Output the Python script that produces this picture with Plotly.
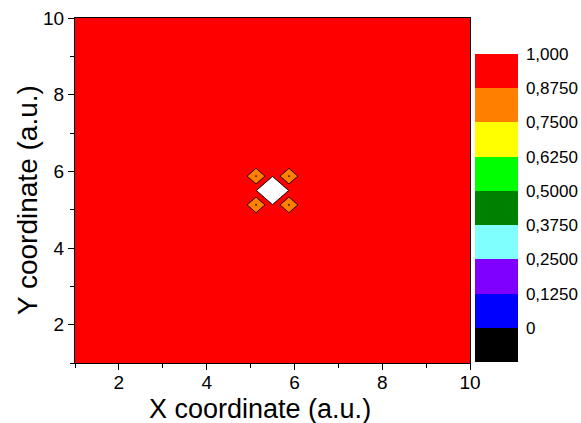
import numpy as np
import plotly.graph_objects as go

# Regular sampling grid of the field (a.u.)
grid_start = 1.0
grid_stop = 10.0
grid_step = 0.375

# Field value over the whole domain and the few nodes that differ from it
background_value = 0.99
node_x = [5.5, 5.125, 5.875, 5.125, 5.875]
node_y = [5.5, 5.875, 5.875, 5.125, 5.125]
node_z = [1.5, 0.738, 0.738, 0.738, 0.738]

# Contour levels and their colour bands (bottom to top)
level_start = 0.0
level_end = 1.0
level_step = 0.125
band_colors = ["#000000", "#0000FF", "#8000FF", "#80FFFF", "#008000",
               "#00FF00", "#FFFF00", "#FF8000", "#FF0000"]
above_color = "#FFFFFF"
colorbar_tickvals = [0, 0.125, 0.25, 0.375, 0.5, 0.625, 0.75, 0.875, 1.0]
colorbar_ticktext = ["0", "0,1250", "0,2500", "0,3750", "0,5000",
                     "0,6250", "0,7500", "0,8750", "1,000"]

# Axis ticks
x_ticks = [2, 4, 6, 8, 10]
y_ticks = [2, 4, 6, 8, 10]

# Build the gridded field
gx = np.arange(grid_start, grid_stop + grid_step / 2, grid_step)
gy = np.arange(grid_start, grid_stop + grid_step / 2, grid_step)
z = np.full((len(gy), len(gx)), background_value)
for xv, yv, zv in zip(node_x, node_y, node_z):
    i = int(np.argmin(np.abs(gy - yv)))
    j = int(np.argmin(np.abs(gx - xv)))
    z[i, j] = zv

# Contour fill colours: one stop per band, incl. below-first and above-last level
fill_colors = band_colors + [above_color]
n_fill = len(fill_colors)
fill_scale = [[k / (n_fill - 1), c] for k, c in enumerate(fill_colors)]

# Stepped scale for the colour bar (bands from level_start - step to level_end)
n_bands = len(band_colors)
bar_scale = []
for k, c in enumerate(band_colors):
    bar_scale.append([k / n_bands, c])
    bar_scale.append([(k + 1) / n_bands, c])

font_family = "Arial, Liberation Sans, sans-serif"

fig = go.Figure()
fig.add_trace(go.Contour(
    x=gx, y=gy, z=z,
    colorscale=fill_scale,
    showscale=False,
    contours=dict(start=level_start, end=level_end, size=level_step,
                  coloring="fill", showlines=True),
    line=dict(color="black", width=1, smoothing=0),
    hoverinfo="skip",
))

# Colour bar
W, H = 581, 423
ml, mr, mt, mb = 75, 111, 18, 60
plot_w = W - ml - mr
plot_h = H - mt - mb
bar_top_px = 54
bar_len_px = 308
fig.add_trace(go.Scatter(
    x=[None], y=[None], mode="markers", showlegend=False,
    marker=dict(
        color=[level_start], colorscale=bar_scale,
        cmin=level_start - level_step, cmax=level_end,
        showscale=True,
        colorbar=dict(
            thickness=43, thicknessmode="pixels",
            len=bar_len_px, lenmode="pixels",
            y=(H - mb - bar_top_px) / plot_h, yanchor="top",
            x=(475 - ml) / plot_w, xanchor="left",
            xpad=0, ypad=0, outlinewidth=0,
            tickvals=colorbar_tickvals, ticktext=colorbar_ticktext,
            ticks="outside", ticklen=5, tickcolor="rgba(0,0,0,0)",
            tickfont=dict(family=font_family, size=17, color="black"),
        ),
    ),
))

axis_common = dict(
    showline=True, mirror=True, linecolor="black", linewidth=1,
    showgrid=False, zeroline=False,
    ticks="outside", ticklen=6, tickwidth=1, tickcolor="black",
    tickfont=dict(family=font_family, size=19, color="black"),
    minor=dict(dtick=1, ticks="outside", ticklen=4, tickcolor="black", showgrid=False),
)

fig.update_layout(
    width=W, height=H,
    margin=dict(l=ml, r=mr, t=mt, b=mb, autoexpand=False),
    paper_bgcolor="white", plot_bgcolor="white",
    showlegend=False,
    xaxis=dict(range=[grid_start, grid_stop], tickvals=x_ticks,
               ticklabelstandoff=-4, **axis_common),
    yaxis=dict(range=[grid_start, grid_stop], tickvals=y_ticks, **axis_common),
    annotations=[
        dict(text="X coordinate (a.u.)", xref="paper", yref="paper",
             x=(260 - ml) / plot_w, y=-(409 - (H - mb)) / plot_h,
             xanchor="center", yanchor="middle", showarrow=False,
             font=dict(family=font_family, size=27, color="black")),
        dict(text="Y coordinate (a.u.)", xref="paper", yref="paper",
             x=-(ml - 27) / plot_w, y=(H - mb - 200) / plot_h,
             xanchor="center", yanchor="middle", showarrow=False, textangle=-90,
             font=dict(family=font_family, size=28, color="black")),
    ],
)

fig.write_html("out.html")
